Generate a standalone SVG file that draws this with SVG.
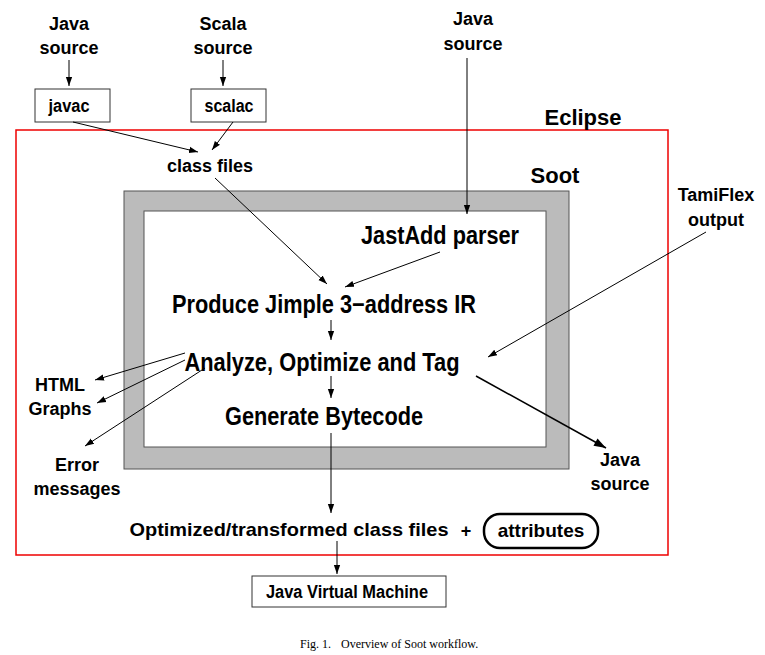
<svg xmlns="http://www.w3.org/2000/svg" width="765" height="655" viewBox="0 0 765 655">
<style>
.b{font-family:"Liberation Sans",Arial,sans-serif;font-weight:bold;font-size:18px;text-anchor:middle;fill:#000}
.n{font-family:"Liberation Sans",Arial,sans-serif;font-weight:bold;text-anchor:middle;fill:#000}
.c{stroke:#000;stroke-width:1;fill:none;marker-end:url(#a)}
.box{fill:#fff;stroke:#333;stroke-width:1}
</style>
<defs><marker id="a" viewBox="0 0 10 10" refX="10" refY="5" markerWidth="9" markerHeight="9" markerUnits="userSpaceOnUse" orient="auto"><path d="M0,1.5L10,5L0,8.5z" fill="#000"/></marker>
<marker id="a2" viewBox="0 0 10 10" refX="10" refY="5" markerWidth="14" markerHeight="12" markerUnits="userSpaceOnUse" orient="auto"><path d="M0,1.5L10,5L0,8.5z" fill="#000"/></marker></defs>
<g id="eclipse"><rect x="16" y="130" width="652" height="425" fill="none" stroke="#e00" stroke-width="1.5"/><text class="b" x="583" y="125" style="font-size:22px">Eclipse</text></g>
<g id="soot"><rect x="124" y="191" width="445" height="278" fill="#bbb" stroke="#555"/><rect x="144" y="211" width="402" height="236" fill="#fff" stroke="#555"/><text class="b" x="555" y="183" style="font-size:22px">Soot</text></g>
<g id="javasrc1"><text class="b" x="69" y="30">Java</text><text class="b" x="69" y="54">source</text></g>
<g id="scalasrc"><text class="b" x="223" y="30">Scala</text><text class="b" x="223" y="54">source</text></g>
<g id="javasrc2"><text class="b" x="473" y="25">Java</text><text class="b" x="473" y="50">source</text></g>
<g id="javac"><rect class="box" x="35" y="89" width="75" height="33"/><text class="n" x="69" y="112" font-size="18" textLength="41" lengthAdjust="spacingAndGlyphs">javac</text></g>
<g id="scalac"><rect class="box" x="191" y="89" width="75" height="33"/><text class="n" x="229" y="112" font-size="18" textLength="49" lengthAdjust="spacingAndGlyphs">scalac</text></g>
<g id="classfiles"><text class="b" x="210" y="172">class files</text></g>
<g id="tamiflex"><text class="b" x="716" y="201">TamiFlex</text><text class="b" x="716" y="226">output</text></g>
<g id="jastadd"><text class="n" x="440" y="244" font-size="25" textLength="158" lengthAdjust="spacingAndGlyphs">JastAdd parser</text></g>
<g id="jimple"><text class="n" x="324" y="313" font-size="25" textLength="304" lengthAdjust="spacingAndGlyphs">Produce Jimple 3−address IR</text></g>
<g id="analyze"><text class="n" x="322" y="371" font-size="25" textLength="275" lengthAdjust="spacingAndGlyphs">Analyze, Optimize and Tag</text></g>
<g id="generate"><text class="n" x="324" y="425" font-size="25" textLength="198" lengthAdjust="spacingAndGlyphs">Generate Bytecode</text></g>
<g id="html"><text class="b" x="60" y="391">HTML</text><text class="b" x="60" y="415">Graphs</text></g>
<g id="error"><text class="b" x="77" y="471">Error</text><text class="b" x="77" y="495">messages</text></g>
<g id="javaout"><text class="b" x="620" y="466">Java</text><text class="b" x="620" y="490">source</text></g>
<g id="optimized"><text class="b" x="289" y="536" style="font-size:19px" textLength="319" lengthAdjust="spacingAndGlyphs">Optimized/transformed class files</text><text class="b" x="466" y="537">+</text></g>
<g id="attributes"><rect x="484" y="514" width="114" height="34" rx="16" fill="#fff" stroke="#000" stroke-width="2.5"/><text class="b" x="541" y="537" style="font-size:19px">attributes</text></g>
<g id="jvm"><rect class="box" x="252" y="576" width="194" height="31"/><text class="n" x="347" y="598" font-size="18" textLength="162" lengthAdjust="spacingAndGlyphs">Java Virtual Machine</text></g>
<text x="300" y="648" font-family="Liberation Serif,serif" font-size="12">Fig. 1.</text>
<text x="341" y="648" font-family="Liberation Serif,serif" font-size="12">Overview of Soot workflow.</text>
<g id="connectors">
<path class="c" d="M69,60V86"/><path class="c" d="M223,60V86"/>
<path class="c" d="M73,122L198,152"/><path class="c" d="M233,122L212,150"/>
<path class="c" d="M215,178L327,284"/>
<path class="c" d="M467,58V214"/>
<path class="c" d="M440,252L345,287"/>
<path class="c" d="M331,320V340"/>
<path class="c" d="M706,232L488,357"/>
<path class="c" d="M185,353L95,380"/>
<path class="c" d="M185,360L97,403"/>
<path class="c" d="M205,368L85,446"/>
<path class="c" d="M331,376V398"/>
<path class="c" d="M476,376L606,448" style="stroke-width:1.5;marker-end:url(#a2)"/>
<path class="c" d="M331,433V513"/>
<path class="c" d="M337,541V574"/>
</g>
</svg>
